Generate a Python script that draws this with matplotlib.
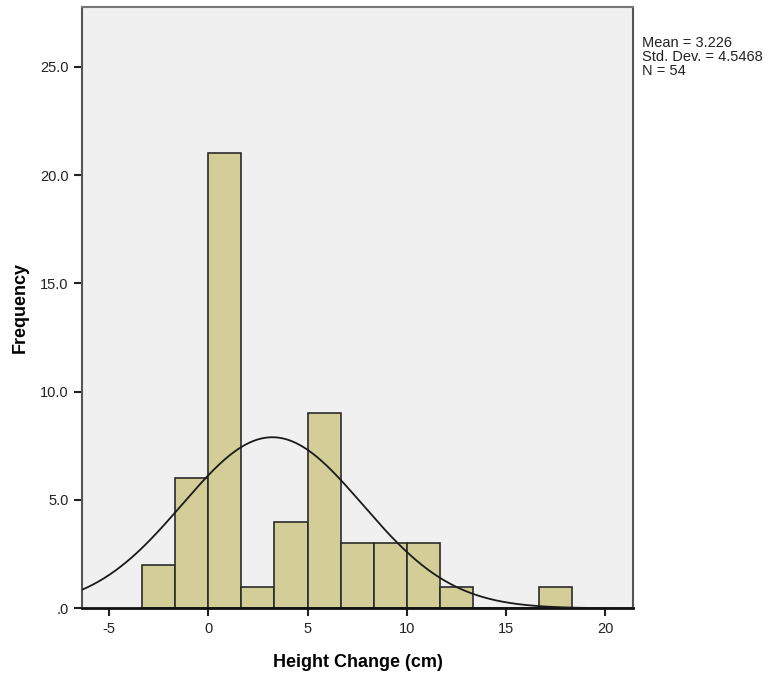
import numpy as np
import matplotlib.pyplot as plt

plt.rcParams['font.family'] = ['Liberation Sans', 'DejaVu Sans']

# histogram bins (width 5/3) and counts
bin_edges = [-10/3, -5/3, 0, 5/3, 10/3, 5, 20/3, 25/3, 10, 35/3, 40/3, 15, 50/3, 55/3]
counts = [2, 6, 21, 1, 4, 9, 3, 3, 3, 1, 0, 0, 1]
mean = 3.226
std = 4.5468
n = 54

fig = plt.figure(figsize=(7.68, 6.75), dpi=100)
ax = fig.add_axes([0.1068, 0.0988, 0.7178, 0.8912])
ax.set_facecolor('#f0f0f0')

edges = np.array(bin_edges)
widths = np.diff(edges)
ax.bar(edges[:-1], counts, width=widths, align='edge',
       color='#d3ce98', edgecolor='#2b2b2b', linewidth=1.2, zorder=2)

# normal curve scaled to counts
bw = widths[0]
xs = np.linspace(-6.36, 21.41, 400)
ys = n * bw / (std * np.sqrt(2 * np.pi)) * np.exp(-0.5 * ((xs - mean) / std) ** 2)
ax.plot(xs, ys, color='#1a1a1a', linewidth=1.3, zorder=3)

ax.set_xlim(-6.36, 21.41)
ax.set_ylim(0, 27.77)
ax.set_xticks([-5, 0, 5, 10, 15, 20])
ax.set_xticklabels(['-5', '0', '5', '10', '15', '20'])
ax.set_yticks([0, 5, 10, 15, 20, 25])
ax.set_yticklabels(['.0', '5.0', '10.0', '15.0', '20.0', '25.0'])
ax.tick_params(direction='out', length=6, width=1.5, labelsize=10.5, colors='#222222')

for side in ['left', 'right', 'top']:
    ax.spines[side].set_color('#555555')
    ax.spines[side].set_linewidth(1.5)
ax.spines['top'].set_color('#777777')
ax.spines['bottom'].set_color('#111111')
ax.spines['bottom'].set_linewidth(2)

ax.set_xlabel('Height Change (cm)', fontsize=13, fontweight='bold', labelpad=13)
ax.set_ylabel('Frequency', fontsize=13, fontweight='bold', labelpad=8)

fig.text(642/768, 1 - 36/675, 'Mean = 3.226\nStd. Dev. = 4.5468\nN = 54',
         fontsize=10.5, va='top', ha='left', linespacing=0.98, color='#222222')

fig.savefig('out.png', dpi=100)
